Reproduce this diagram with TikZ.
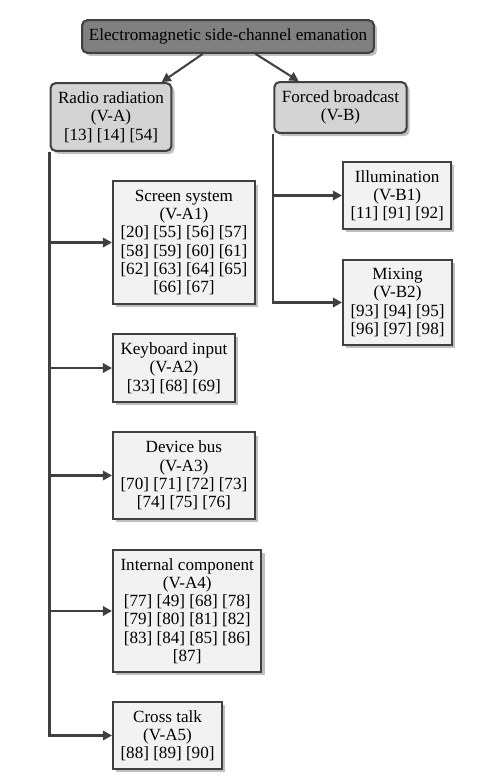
\documentclass[tikz,border=0pt]{standalone}
\usepackage{fontspec}
\setmainfont{Liberation Serif}
\usetikzlibrary{arrows.meta,shadows}

\begin{document}
\begin{tikzpicture}[x=0.585pt,y=-0.585pt,
  font=\fontsize{10}{10.7}\selectfont,
  box/.style={draw=black!75,line width=1.2pt,align=center,inner xsep=4.4pt,inner ysep=5pt,
    drop shadow={shadow xshift=1.8pt,shadow yshift=-1.8pt,fill=black!25,opacity=1}},
  rootbox/.style={box,rounded corners=3pt,fill=black!50,inner xsep=4pt},
  groupbox/.style={box,rounded corners=3pt,fill=black!17},
  leafbox/.style={box,fill=black!5,anchor=west},
  link/.style={draw=black!75,line width=1.2pt,-{Triangle[length=5.3pt,width=5.5pt]}}]
\path[use as bounding box] (0,0) rectangle (485,782);
\node[rootbox] (root) at (228,36.5) {Electromagnetic side-channel emanation};
\node[groupbox] (radio) at (111,117) {Radio radiation\\(V-A)\\{}[13] [14] [54]};
\node[groupbox] (forced) at (340.5,107.5) {Forced broadcast\\(V-B)};
\node[leafbox] (screen) at (112,242.5) {Screen system\\(V-A1)\\{}[20] [55] [56] [57]\\{}[58] [59] [60] [61]\\{}[62] [63] [64] [65]\\{}[66] [67]};
\node[leafbox] (keyboard) at (112,368) {Keyboard input\\(V-A2)\\{}[33] [68] [69]};
\node[leafbox] (bus) at (112,475.5) {Device bus\\(V-A3)\\{}[70] [71] [72] [73]\\{}[74] [75] [76]};
\node[leafbox] (internal) at (112,611) {Internal component\\(V-A4)\\{}[77] [49] [68] [78]\\{}[79] [80] [81] [82]\\{}[83] [84] [85] [86]\\{}[87]};
\node[leafbox] (crosstalk) at (112,735.5) {Cross talk\\(V-A5)\\{}[88] [89] [90]};
\node[leafbox] (illum) at (342,195.5) {Illumination\\(V-B1)\\{}[11] [91] [92]};
\node[leafbox] (mixing) at (342,302.5) {Mixing\\(V-B2)\\{}[93] [94] [95]\\{}[96] [97] [98]};
\draw[link] (root) -- (radio);
\draw[link] (root) -- (forced);
\draw[link] (radio.south west) |- (screen.west);
\draw[link] (radio.south west) |- (keyboard.west);
\draw[link] (radio.south west) |- (bus.west);
\draw[link] (radio.south west) |- (internal.west);
\draw[link] (radio.south west) |- (crosstalk.west);
\draw[link] (forced.south west) |- (illum.west);
\draw[link] (forced.south west) |- (mixing.west);
\end{tikzpicture}
\end{document}
